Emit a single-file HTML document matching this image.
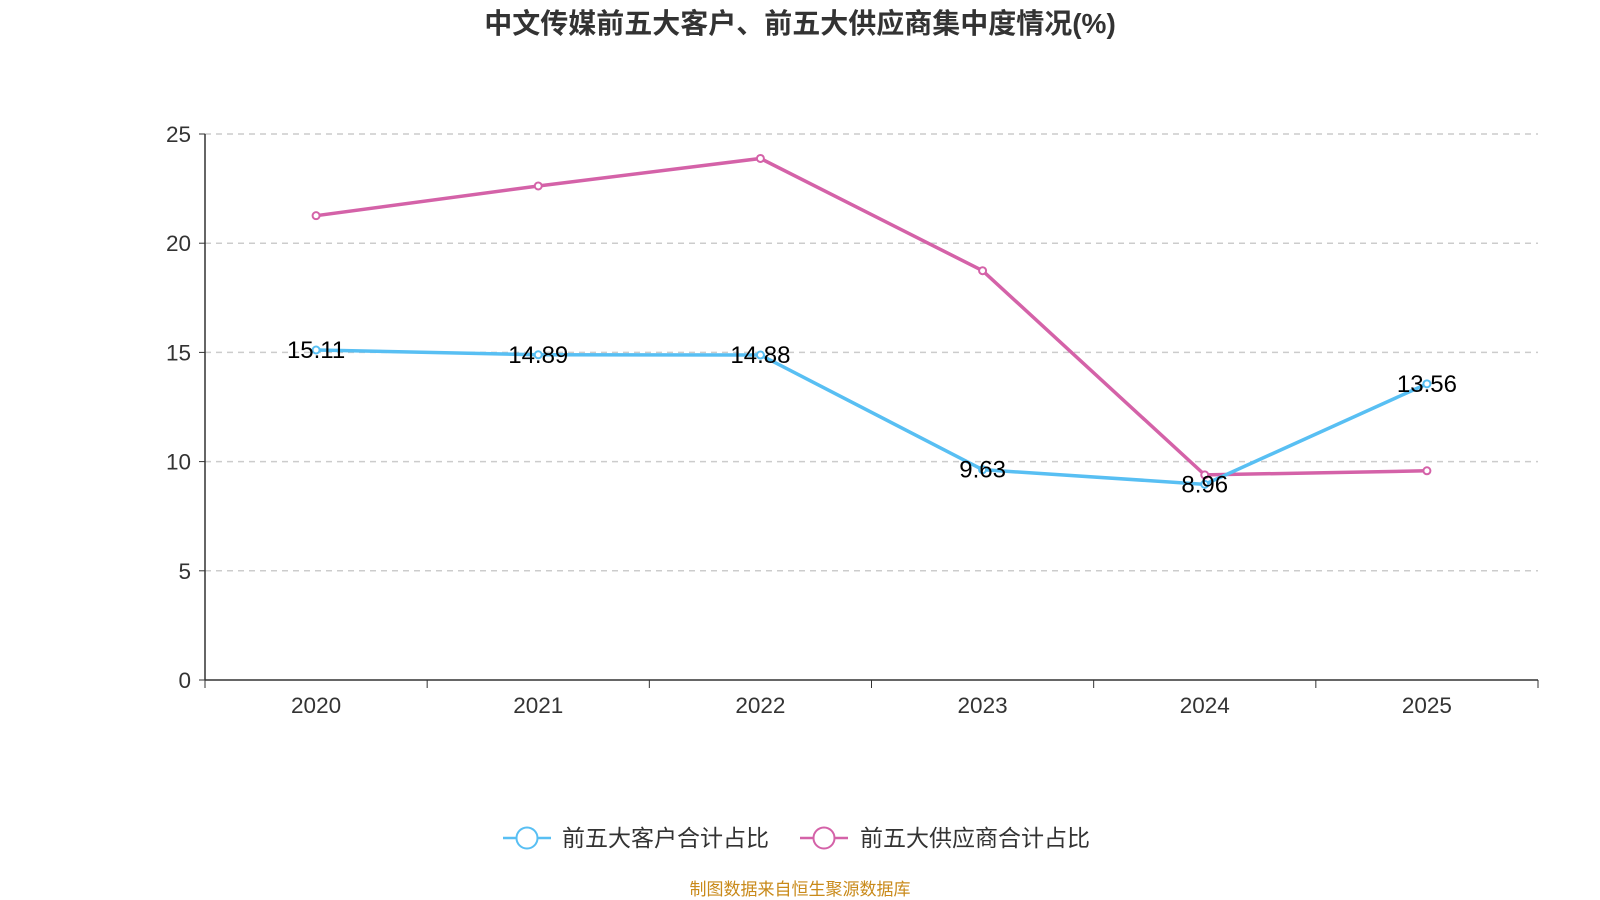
<!DOCTYPE html>
<html><head><meta charset="utf-8"><style>
html,body{margin:0;padding:0;background:#fff;width:1600px;height:900px;overflow:hidden}
svg{display:block;font-family:"Liberation Sans","Noto Sans CJK SC",sans-serif}
</style></head><body>
<svg id="chart" width="1600" height="900">
<text x="800" y="33" text-anchor="middle" font-size="28" font-weight="bold" fill="#333">中文传媒前五大客户、前五大供应商集中度情况(%)</text>
<g id="grid"></g><g id="axes"></g><g id="series"></g>
<g>
<g>
<line x1="503" y1="838" x2="551" y2="838" stroke="#58bff3" stroke-width="2.5"/>
<circle cx="527" cy="838" r="10.5" fill="#fff" stroke="#58bff3" stroke-width="2"/>
<text x="562" y="846" font-size="23" fill="#333">前五大客户合计占比</text></g>
<g>
<line x1="800" y1="838" x2="848" y2="838" stroke="#d462a8" stroke-width="2.5"/>
<circle cx="824" cy="838" r="10.5" fill="#fff" stroke="#d462a8" stroke-width="2"/>
<text x="860" y="846" font-size="23" fill="#333">前五大供应商合计占比</text></g>
</g>
<text x="800" y="895" text-anchor="middle" font-size="17" fill="#c98a1a">制图数据来自恒生聚源数据库</text>
</svg>
<script>
const categories=["2020","2021","2022","2023","2024","2025"];
const customers=[15.11,14.89,14.88,9.63,8.96,13.56];
const suppliers=[21.26,22.62,23.88,18.74,9.39,9.58];
const yTicks=[0,5,10,15,20,25];
const NS="http://www.w3.org/2000/svg";
const X0=205,X1=1538,Y0=680,Y1=134,YMAX=25;
const bw=(X1-X0)/categories.length;
const xs=i=>X0+bw*(i+0.5);
const ys=v=>Y0-(v/YMAX)*(Y0-Y1);
function mk(t,a,p){const e=document.createElementNS(NS,t);for(const k in a)e.setAttribute(k,a[k]);p.appendChild(e);return e;}
const grid=document.getElementById('grid'),axes=document.getElementById('axes'),ser=document.getElementById('series');
yTicks.forEach(t=>{
 if(t>0){const l=mk('line',{x1:X0,x2:X1,y1:ys(t),y2:ys(t),stroke:'#ccc','stroke-dasharray':'6,5','stroke-width':1.5},grid);
 
 }
 mk('line',{x1:X0-6,x2:X0,y1:ys(t),y2:ys(t),stroke:'#333'},axes);
 const tx=mk('text',{x:X0-14,y:ys(t)+8,'text-anchor':'end','font-size':22.5,fill:'#333'},axes);tx.textContent=t;
 
 
});
mk('line',{x1:X0,x2:X0,y1:Y1,y2:Y0,stroke:'#333','stroke-width':1.5},axes);
mk('line',{x1:X0,x2:X1,y1:Y0,y2:Y0,stroke:'#333','stroke-width':1.5},axes);
for(let i=0;i<=categories.length;i++)mk('line',{x1:X0+bw*i,x2:X0+bw*i,y1:Y0,y2:Y0+8,stroke:'#333'},axes);
categories.forEach((c,i)=>{const t=mk('text',{x:xs(i),y:Y0+33,'text-anchor':'middle','font-size':22.5,fill:'#333'},axes);t.textContent=c;
 
 });
function draw(vals,color,name,labels){
 const p=mk('polyline',{points:vals.map((v,i)=>xs(i)+','+ys(v)).join(' '),fill:'none',stroke:color,'stroke-width':3.5},ser);
 
 
 vals.forEach((v,i)=>{const c=mk('circle',{cx:xs(i),cy:ys(v),r:3.5,fill:'#fff',stroke:color,'stroke-width':2},ser);
  
  
  if(labels){const t=mk('text',{x:xs(i),y:ys(v)+8,'text-anchor':'middle','font-size':24,fill:'#000'},ser);t.textContent=v.toFixed(2);
  
  }
 });
}
draw(suppliers,'#d462a8','suppliers',false);
draw(customers,'#58bff3','customers',true);
</script>
</body></html>
